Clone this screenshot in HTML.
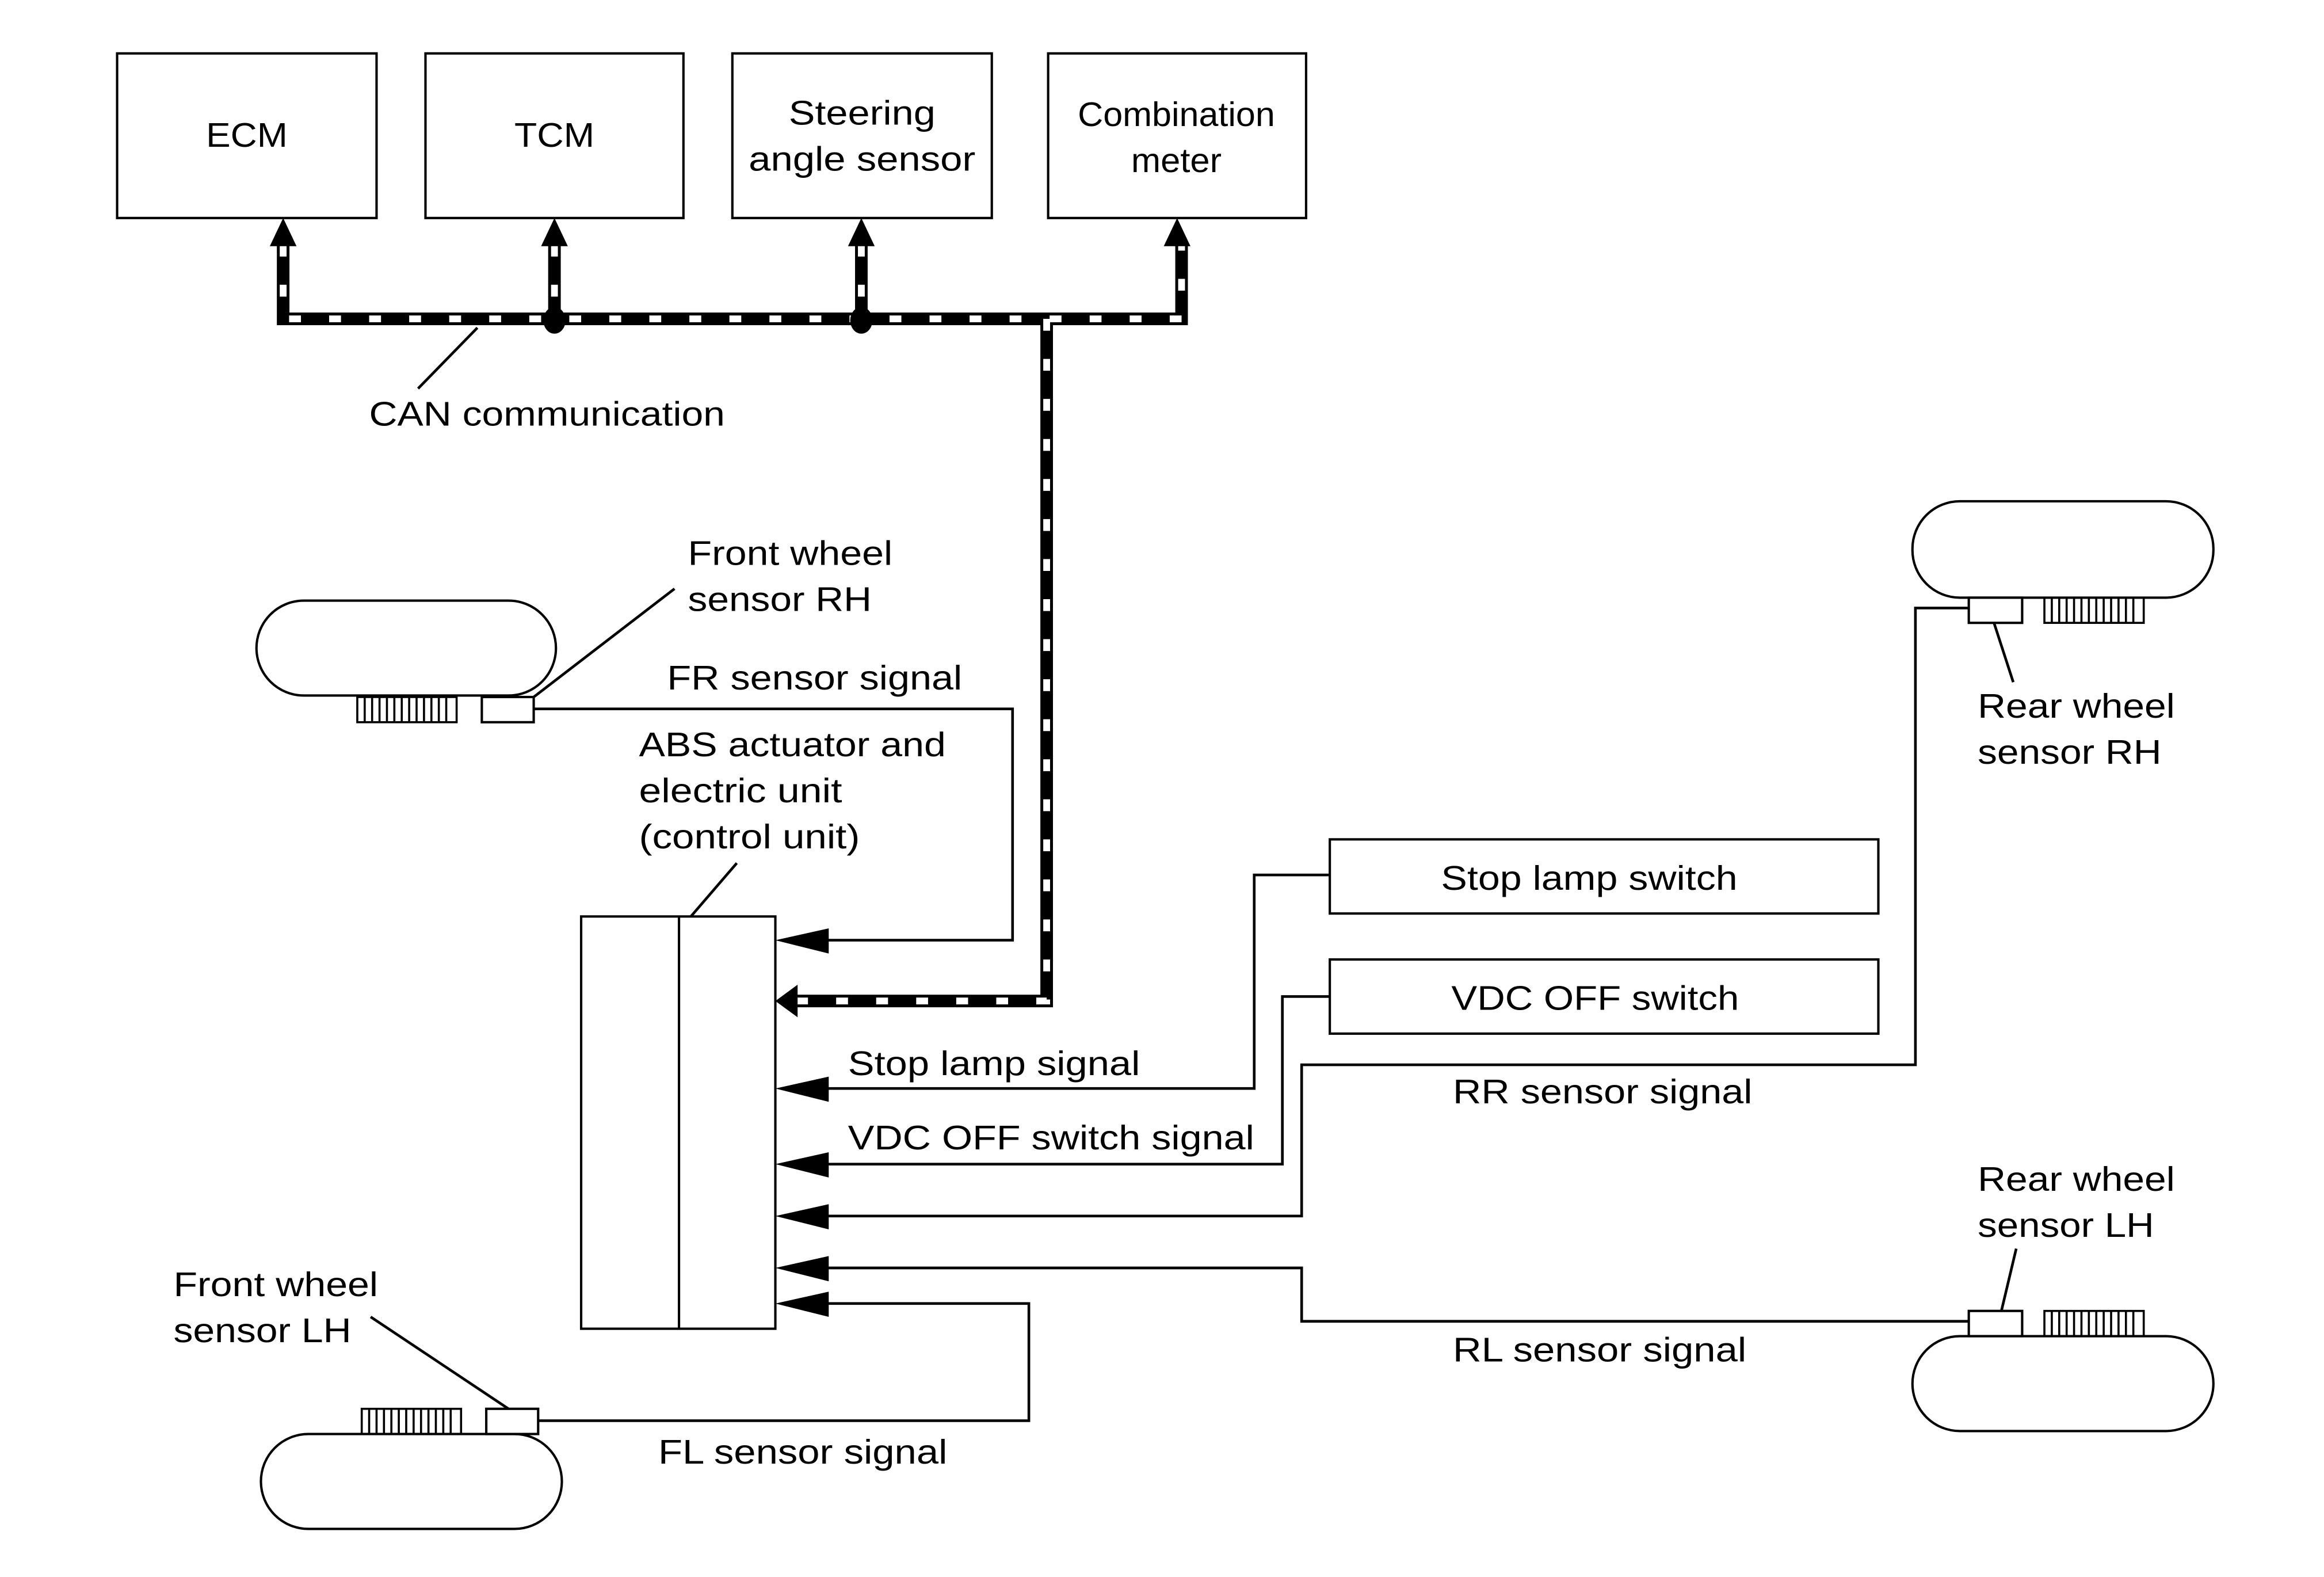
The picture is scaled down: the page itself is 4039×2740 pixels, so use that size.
<!DOCTYPE html>
<html><head><meta charset="utf-8"><style>html,body{margin:0;padding:0;background:#fff}svg{display:block}</style></head>
<body>
<svg width="4039" height="2740" viewBox="0 0 1567.6 1063.4" xmlns="http://www.w3.org/2000/svg" font-family="Liberation Sans, sans-serif" font-size="23" fill="#000">
<rect width="1567.6" height="1063.4" fill="#fff"/>
<g fill="none" stroke="#000" stroke-width="1.6">
<rect x="79" y="36" width="175" height="111"/>
<rect x="287" y="36" width="174" height="111"/>
<rect x="494" y="36" width="175" height="111"/>
<rect x="707" y="36" width="174" height="111"/>
<rect x="897" y="566" width="370" height="50"/>
<rect x="897" y="647" width="370" height="50"/>
<rect x="392" y="618" width="131" height="278"/>
<line x1="458" y1="618" x2="458" y2="896"/>
<rect x="173" y="405" width="202" height="64" rx="32"/>
<rect x="1290" y="338" width="203" height="65" rx="32"/>
<rect x="1290" y="901" width="203" height="64" rx="32"/>
<rect x="176" y="967" width="203" height="64" rx="32"/>
<rect x="325" y="470" width="35" height="17"/>
<rect x="1328" y="403" width="36" height="17"/>
<rect x="1328" y="884" width="36" height="17"/>
<rect x="328" y="950" width="35" height="17"/>
</g>
<g fill="none" stroke="#000" stroke-width="1.4">
<rect x="241" y="470" width="67" height="17"/>
<path d="M246,470V487M251,470V487M256,470V487M261,470V487M266,470V487M271,470V487M276,470V487M281,470V487M286,470V487M291,470V487M296,470V487M301,470V487"/>
<rect x="1379" y="403" width="67" height="17"/>
<path d="M1384,403V420M1389,403V420M1394,403V420M1399,403V420M1404,403V420M1409,403V420M1414,403V420M1419,403V420M1424,403V420M1429,403V420M1434,403V420M1439,403V420"/>
<rect x="1379" y="884" width="67" height="17"/>
<path d="M1384,884V901M1389,884V901M1394,884V901M1399,884V901M1404,884V901M1409,884V901M1414,884V901M1419,884V901M1424,884V901M1429,884V901M1434,884V901M1439,884V901"/>
<rect x="244" y="950" width="67" height="17"/>
<path d="M249,950V967M254,950V967M259,950V967M264,950V967M269,950V967M274,950V967M279,950V967M284,950V967M289,950V967M294,950V967M299,950V967M304,950V967"/>
</g>
<g fill="none" stroke="#000" stroke-width="1.8">
<path d="M360,478H683V634H555"/>
<path d="M897,590H846V734H555"/>
<path d="M897,672H865V785H555"/>
<path d="M1328,410H1292V718H878V820H555"/>
<path d="M1328,891H878V855H555"/>
<path d="M363,958H694V879H555"/>
<path d="M360,470L455,397"/>
<path d="M1345,420L1358,460"/>
<path d="M1350,884L1360,842"/>
<path d="M343,950L250,888"/>
<path d="M466,618L497,582"/>
<path d="M282,262L322,221"/>
</g>
<g fill="#000">
<polygon points="523,634 559,626 559,643"/>
<polygon points="523,734 559,726 559,743"/>
<polygon points="523,785 559,777 559,794"/>
<polygon points="523,820 559,812 559,829"/>
<polygon points="523,855 559,847 559,864"/>
<polygon points="523,879 559,871 559,888"/>
</g>
<g fill="none">
<path d="M191,165V215H797V165 M374,165V215 M581,165V215 M706,215V675H536" stroke="#000" stroke-width="8.5"/>
<path d="M191,165V215H797V165 M374,165V215 M581,165V215 M706,215V675H536" stroke="#fff" stroke-width="4.6" stroke-dasharray="8,19"/>
</g>
<g fill="#000">
<polygon points="191,147 182,166 200,166"/>
<polygon points="374,147 365,166 383,166"/>
<polygon points="581,147 572,166 590,166"/>
<polygon points="794,147 785,166 803,166"/>
<ellipse cx="374" cy="216" rx="7.5" ry="9"/>
<ellipse cx="581" cy="216" rx="7.5" ry="9"/>
<polygon points="523,675 538,664 538,686"/>
</g>
<g>
<text x="139" y="99" textLength="55" lengthAdjust="spacingAndGlyphs">ECM</text>
<text x="347" y="99" textLength="54" lengthAdjust="spacingAndGlyphs">TCM</text>
<text x="532" y="84" textLength="99" lengthAdjust="spacingAndGlyphs">Steering</text>
<text x="505" y="115" textLength="153" lengthAdjust="spacingAndGlyphs">angle sensor</text>
<text x="727" y="85" textLength="133" lengthAdjust="spacingAndGlyphs">Combination</text>
<text x="763" y="116" textLength="61" lengthAdjust="spacingAndGlyphs">meter</text>
<text x="972" y="600" textLength="200" lengthAdjust="spacingAndGlyphs">Stop lamp switch</text>
<text x="979" y="681" textLength="194" lengthAdjust="spacingAndGlyphs">VDC OFF switch</text>
<text x="249" y="287" textLength="240" lengthAdjust="spacingAndGlyphs">CAN communication</text>
<text x="464" y="381" textLength="138" lengthAdjust="spacingAndGlyphs">Front wheel</text>
<text x="464" y="412" textLength="124" lengthAdjust="spacingAndGlyphs">sensor RH</text>
<text x="450" y="465" textLength="199" lengthAdjust="spacingAndGlyphs">FR sensor signal</text>
<text x="431" y="510" textLength="207" lengthAdjust="spacingAndGlyphs">ABS actuator and</text>
<text x="431" y="541" textLength="137" lengthAdjust="spacingAndGlyphs">electric unit</text>
<text x="431" y="572" textLength="149" lengthAdjust="spacingAndGlyphs">(control unit)</text>
<text x="1334" y="484" textLength="133" lengthAdjust="spacingAndGlyphs">Rear wheel</text>
<text x="1334" y="515" textLength="124" lengthAdjust="spacingAndGlyphs">sensor RH</text>
<text x="572" y="725" textLength="197" lengthAdjust="spacingAndGlyphs">Stop lamp signal</text>
<text x="572" y="775" textLength="274" lengthAdjust="spacingAndGlyphs">VDC OFF switch signal</text>
<text x="980" y="744" textLength="202" lengthAdjust="spacingAndGlyphs">RR sensor signal</text>
<text x="1334" y="803" textLength="133" lengthAdjust="spacingAndGlyphs">Rear wheel</text>
<text x="1334" y="834" textLength="119" lengthAdjust="spacingAndGlyphs">sensor LH</text>
<text x="117" y="874" textLength="138" lengthAdjust="spacingAndGlyphs">Front wheel</text>
<text x="117" y="905" textLength="120" lengthAdjust="spacingAndGlyphs">sensor LH</text>
<text x="980" y="918" textLength="198" lengthAdjust="spacingAndGlyphs">RL sensor signal</text>
<text x="444" y="987" textLength="195" lengthAdjust="spacingAndGlyphs">FL sensor signal</text>
</g>
</svg>
</body></html>
